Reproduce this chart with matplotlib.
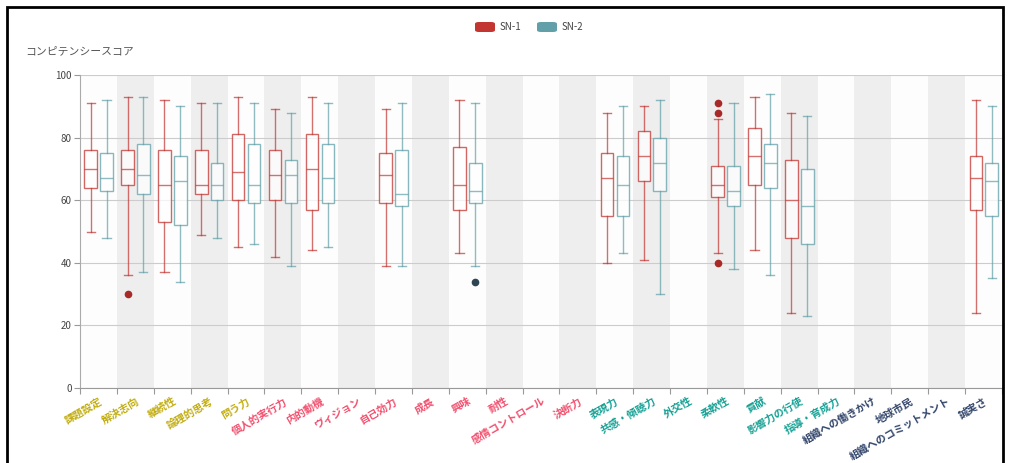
import matplotlib.pyplot as plt
from matplotlib.patches import FancyBboxPatch, Rectangle
import matplotlib.transforms as mtransforms

plt.rcParams['font.family'] = ['Noto Sans CJK JP', 'DejaVu Sans']

# カテゴリ(コンピテンシー)
categories = ["課題設定", "解決志向", "継続性", "論理的思考", "問う力",
              "個人的実行力", "内的動機", "ヴィジョン", "自己効力", "成長",
              "興味", "耐性", "感情コントロール", "決断力",
              "表現力", "共感・傾聴力", "外交性", "柔軟性", "貢献",
              "影響力の行使", "指導・育成力",
              "組織への働きかけ", "地球市民", "組織へのコミットメント", "誠実さ"]
label_groups = [0] * 5 + [1] * 9 + [2] * 7 + [3] * 4
group_colors = ["#c2ad10", "#f2506e", "#17a195", "#33466b"]

# SN-1: 下ひげ, Q1, 中央値, Q3, 上ひげ (None = データなし)
sn1_lo = [50, 36, 37, 49, 45, 42, 44, None, 39, None, 43, None, None, None,
          40, 41, None, 43, 44, 24, None, None, None, None, 24]
sn1_q1 = [64, 65, 53, 62, 60, 60, 57, None, 59, None, 57, None, None, None,
          55, 66, None, 61, 65, 48, None, None, None, None, 57]
sn1_med = [70, 70, 65, 65, 69, 68, 70, None, 68, None, 65, None, None, None,
           67, 74, None, 65, 74, 60, None, None, None, None, 67]
sn1_q3 = [76, 76, 76, 76, 81, 76, 81, None, 75, None, 77, None, None, None,
          75, 82, None, 71, 83, 73, None, None, None, None, 74]
sn1_hi = [91, 93, 92, 91, 93, 89, 93, None, 89, None, 92, None, None, None,
          88, 90, None, 86, 93, 88, None, None, None, None, 92]
sn1_out = {1: [30], 17: [91, 88, 40]}

# SN-2
sn2_lo = [48, 37, 34, 48, 46, 39, 45, None, 39, None, 39, None, None, None,
          43, 30, None, 38, 36, 23, None, None, None, None, 35]
sn2_q1 = [63, 62, 52, 60, 59, 59, 59, None, 58, None, 59, None, None, None,
          55, 63, None, 58, 64, 46, None, None, None, None, 55]
sn2_med = [67, 68, 66, 65, 65, 68, 67, None, 62, None, 63, None, None, None,
           65, 72, None, 63, 72, 58, None, None, None, None, 66]
sn2_q3 = [75, 78, 74, 72, 78, 73, 78, None, 76, None, 72, None, None, None,
          74, 80, None, 71, 78, 70, None, None, None, None, 72]
sn2_hi = [92, 93, 90, 91, 91, 88, 91, None, 91, None, 91, None, None, None,
          90, 92, None, 91, 94, 87, None, None, None, None, 90]
sn2_out = {10: [34]}

W, H = 1009, 463
fig = plt.figure(figsize=(W / 100, H / 100), dpi=100)
ax = fig.add_axes([80 / W, 75 / H, 922 / W, 313 / H])

n = len(categories)
# 背景の縞
for i in range(n):
    c = "#eeeeee" if i % 2 else "#fdfdfd"
    ax.axvspan(i - 0.5, i + 0.5, color=c, lw=0, zorder=0)


def make_stats(lo, q1, med, q3, hi, out):
    stats, pos = [], []
    for i in range(n):
        if med[i] is None:
            continue
        stats.append(dict(whislo=lo[i], q1=q1[i], med=med[i], q3=q3[i],
                          whishi=hi[i], fliers=out.get(i, [])))
        pos.append(i)
    return stats, pos


series = [
    ("SN-1", "#c23531", "#a82a28", -0.21,
     make_stats(sn1_lo, sn1_q1, sn1_med, sn1_q3, sn1_hi, sn1_out)),
    ("SN-2", "#61a0a8", "#2f4554", 0.22,
     make_stats(sn2_lo, sn2_q1, sn2_med, sn2_q3, sn2_hi, sn2_out)),
]
for name, col, fcol, off, (stats, pos) in series:
    lc = dict(color=col, lw=1.0, alpha=0.7)
    ax.bxp(stats, positions=[p + off for p in pos], widths=0.34,
           patch_artist=True, manage_ticks=False, capwidths=0.22,
           boxprops=dict(facecolor="white", edgecolor=col, lw=1.0, alpha=0.75),
           whiskerprops=lc, capprops=lc, medianprops=lc,
           flierprops=dict(marker="o", markersize=4.5, markerfacecolor=fcol,
                           markeredgecolor=fcol),
           zorder=3)

ax.set_xlim(-0.5, n - 0.5)
ax.set_ylim(0, 100)
ax.set_yticks([0, 20, 40, 60, 80, 100])
ax.yaxis.grid(True, color="#cccccc", lw=0.8, zorder=1)
ax.set_axisbelow(True)
ax.tick_params(axis="y", length=4, color="#999999", labelsize=7,
               labelcolor="#444444", pad=2)
ax.set_xticks([i - 0.5 for i in range(n + 1)])
ax.set_xticklabels([])
ax.tick_params(axis="x", length=4, color="#999999")
for s in ["top", "right"]:
    ax.spines[s].set_visible(False)
ax.spines["left"].set_color("#aaaaaa")
ax.spines["bottom"].set_color("#999999")

trans = mtransforms.blended_transform_factory(ax.transData, ax.transAxes)
for i, lab in enumerate(categories):
    ax.text(i + 0.02, -8 / 313, lab, transform=trans, rotation=30,
            rotation_mode="anchor", ha="right", va="top", fontsize=7.5,
            fontweight="bold", color=group_colors[label_groups[i]])

# 軸名
fig.text(80 / W, 1 - 51 / H, "コンピテンシースコア", ha="center", va="center",
         fontsize=7.8, color="#555555")

# 凡例
for x0, col, name in [(475, "#c23531", "SN-1"), (537, "#61a0a8", "SN-2")]:
    fig.patches.append(FancyBboxPatch(
        (x0 / W, 1 - 32 / H), 20 / W, 10 / H,
        boxstyle="round,pad=0,rounding_size=0.004", transform=fig.transFigure,
        facecolor=col, edgecolor="none"))
    fig.text((x0 + 25) / W, 1 - 27 / H, name, ha="left", va="center",
             fontsize=7, color="#444444")

# 外枠 (下辺は画像の外)
fig.patches.append(Rectangle((7 / W, -10 / H), 996 / W, 466 / H,
                             transform=fig.transFigure, fill=False,
                             edgecolor="black", lw=2))

fig.savefig("out.png", dpi=100)
